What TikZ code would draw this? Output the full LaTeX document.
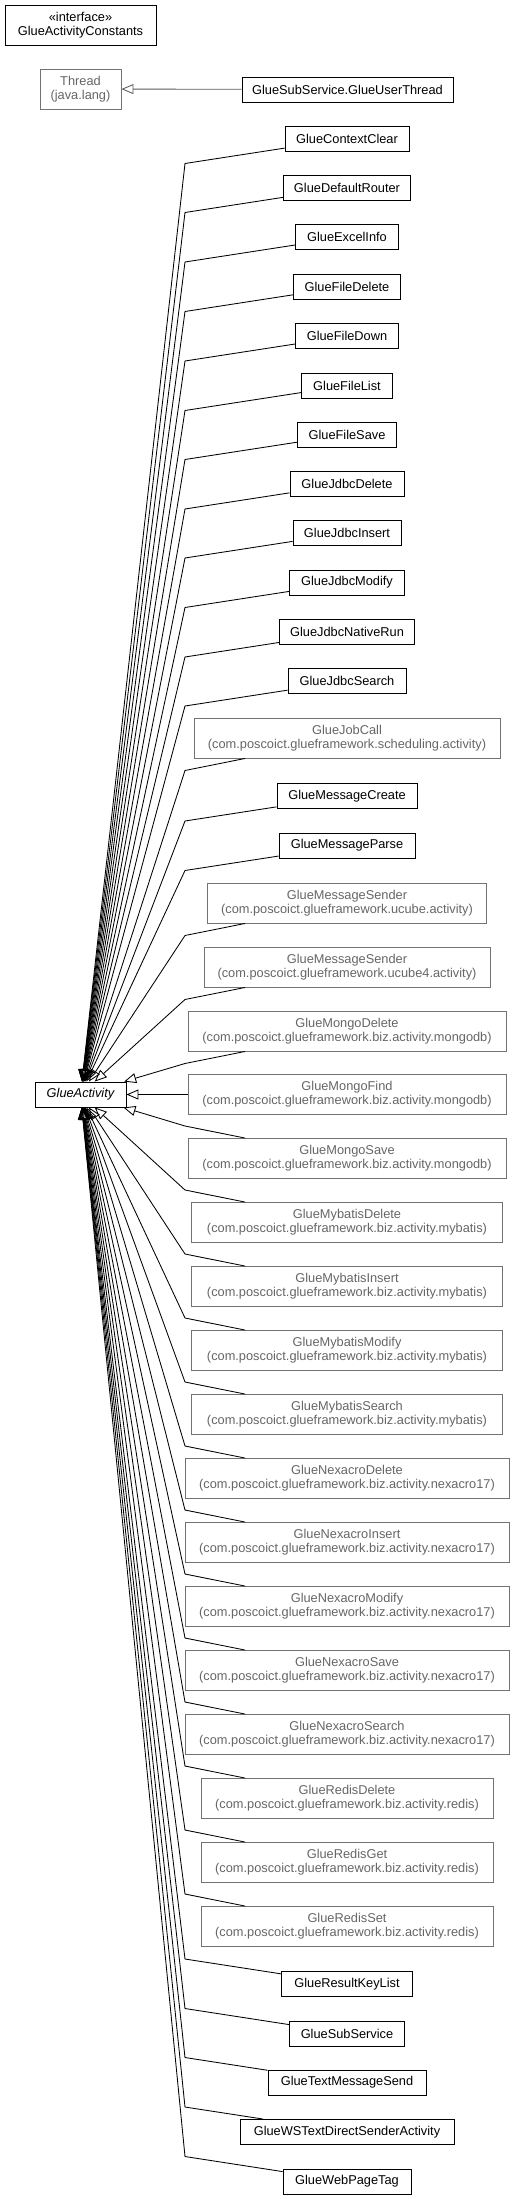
\documentclass[tikz,border=0pt]{standalone}
\usepackage{fontspec}
\setmainfont{Liberation Sans}
\usetikzlibrary{arrows.meta}
\newcommand\dfs{\fontsize{12.8pt}{14pt}\selectfont}
\begin{document}
\begin{tikzpicture}[x=1pt,y=-1pt,
  cls/.style={draw=black, line width=0.9pt, fill=white, font=\dfs, align=center, inner sep=0pt, minimum height=25pt},
  ext/.style={cls, draw=black!55, text=black!60, minimum height=40pt},
  edge/.style={draw=black, line width=0.85pt, -{Triangle[open, length=12pt, width=10pt]}},
  extedge/.style={edge, draw=black!65}]
\useasboundingbox (0,0) rectangle (515,2199);

\node[cls, minimum width=151pt, minimum height=40pt] (iface) at (80.5,25) {«interface»\\GlueActivityConstants};
\node[ext, minimum width=81pt] (thread) at (80.5,89) {Thread\\(java.lang)};
\node[cls, minimum width=211pt] (userthread) at (347.5,89.5) {GlueSubService.GlueUserThread};
\draw[extedge] (userthread) -- (thread);

\node[cls, minimum width=91pt, font=\dfs\itshape] (ga) at (80.5,1094.5) {GlueActivity};

\node[cls, minimum width=124pt] (n1) at (347,138.5) {GlueContextClear};
\node[cls, minimum width=127pt] (n2) at (347,187.5) {GlueDefaultRouter};
\node[cls, minimum width=103pt] (n3) at (347,237) {GlueExcelInfo};
\node[cls, minimum width=107pt] (n4) at (347,286.5) {GlueFileDelete};
\node[cls, minimum width=103pt] (n5) at (347,336) {GlueFileDown};
\node[cls, minimum width=91pt] (n6) at (347,385.5) {GlueFileList};
\node[cls, minimum width=99pt] (n7) at (347,434.5) {GlueFileSave};
\node[cls, minimum width=114pt] (n8) at (347,484) {GlueJdbcDelete};
\node[cls, minimum width=108pt] (n9) at (347,533) {GlueJdbcInsert};
\node[cls, minimum width=115pt] (n10) at (347,582.5) {GlueJdbcModify};
\node[cls, minimum width=135pt] (n11) at (347,632) {GlueJdbcNativeRun};
\node[cls, minimum width=118pt] (n12) at (347,681) {GlueJdbcSearch};
\node[ext, minimum width=306pt] (n13) at (347,738) {GlueJobCall\\(com.poscoict.glueframework.scheduling.activity)};
\node[cls, minimum width=140pt] (n14) at (347,796) {GlueMessageCreate};
\node[cls, minimum width=136pt] (n15) at (347,845.5) {GlueMessageParse};
\node[ext, minimum width=279pt] (n16) at (347,903) {GlueMessageSender\\(com.poscoict.glueframework.ucube.activity)};
\node[ext, minimum width=286pt] (n17) at (347,967) {GlueMessageSender\\(com.poscoict.glueframework.ucube4.activity)};
\node[ext, minimum width=318pt] (n18) at (347,1031) {GlueMongoDelete\\(com.poscoict.glueframework.biz.activity.mongodb)};
\node[ext, minimum width=318pt] (n19) at (347,1094.5) {GlueMongoFind\\(com.poscoict.glueframework.biz.activity.mongodb)};
\node[ext, minimum width=318pt] (n20) at (347,1158.5) {GlueMongoSave\\(com.poscoict.glueframework.biz.activity.mongodb)};
\node[ext, minimum width=311pt] (n21) at (347,1222.5) {GlueMybatisDelete\\(com.poscoict.glueframework.biz.activity.mybatis)};
\node[ext, minimum width=311pt] (n22) at (347,1286.5) {GlueMybatisInsert\\(com.poscoict.glueframework.biz.activity.mybatis)};
\node[ext, minimum width=311pt] (n23) at (347,1350.5) {GlueMybatisModify\\(com.poscoict.glueframework.biz.activity.mybatis)};
\node[ext, minimum width=311pt] (n24) at (347,1414.5) {GlueMybatisSearch\\(com.poscoict.glueframework.biz.activity.mybatis)};
\node[ext, minimum width=324pt] (n25) at (347,1478.5) {GlueNexacroDelete\\(com.poscoict.glueframework.biz.activity.nexacro17)};
\node[ext, minimum width=324pt] (n26) at (347,1542.5) {GlueNexacroInsert\\(com.poscoict.glueframework.biz.activity.nexacro17)};
\node[ext, minimum width=324pt] (n27) at (347,1606.5) {GlueNexacroModify\\(com.poscoict.glueframework.biz.activity.nexacro17)};
\node[ext, minimum width=324pt] (n28) at (347,1670.5) {GlueNexacroSave\\(com.poscoict.glueframework.biz.activity.nexacro17)};
\node[ext, minimum width=324pt] (n29) at (347,1734.5) {GlueNexacroSearch\\(com.poscoict.glueframework.biz.activity.nexacro17)};
\node[ext, minimum width=292pt] (n30) at (347,1798.5) {GlueRedisDelete\\(com.poscoict.glueframework.biz.activity.redis)};
\node[ext, minimum width=292pt] (n31) at (347,1862.5) {GlueRedisGet\\(com.poscoict.glueframework.biz.activity.redis)};
\node[ext, minimum width=292pt] (n32) at (347,1926.5) {GlueRedisSet\\(com.poscoict.glueframework.biz.activity.redis)};
\node[cls, minimum width=131pt] (n33) at (347,1984) {GlueResultKeyList};
\node[cls, minimum width=115pt] (n34) at (347,2033.5) {GlueSubService};
\node[cls, minimum width=158pt] (n35) at (347,2082.5) {GlueTextMessageSend};
\node[cls, minimum width=214pt] (n36) at (347,2132) {GlueWSTextDirectSenderActivity};
\node[cls, minimum width=128pt] (n37) at (347,2181.5) {GlueWebPageTag};

\foreach \n/\b in {n1/163.5, n2/212.5, n3/262, n4/311.5, n5/361, n6/410.5, n7/459.5,
  n8/509, n9/558, n10/607.5, n11/657, n12/706, n13/770.5, n14/821, n15/870.5,
  n16/935.5, n17/999.5, n18/1063.5, n20/1126, n21/1190, n22/1254, n23/1318,
  n24/1382, n25/1446, n26/1510, n27/1574, n28/1638, n29/1702, n30/1766,
  n31/1830, n32/1894, n33/1959, n34/2008.5, n35/2057.5, n36/2107, n37/2156.5}
  \draw[edge] (\n) -- (185,\b) -- (ga);
\draw[edge] (n19) -- (ga);
\end{tikzpicture}
\end{document}
